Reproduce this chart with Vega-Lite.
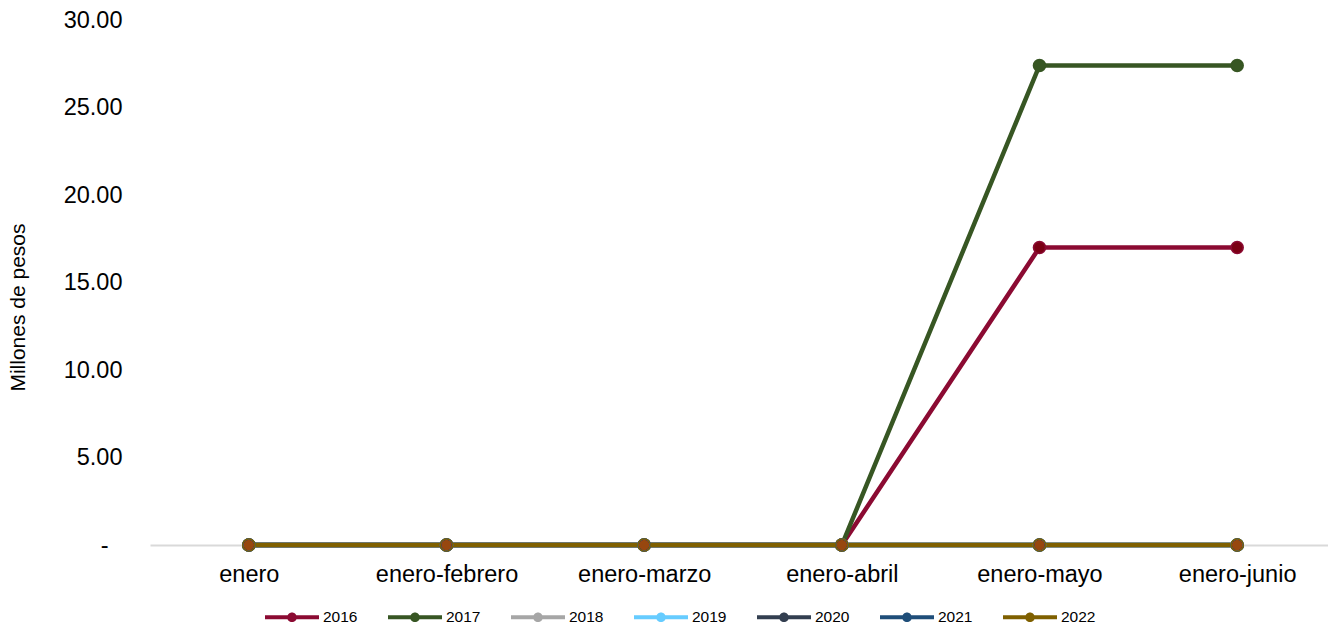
{
  "$schema": "https://vega.github.io/schema/vega-lite/v6.json",
  "width": 1186,
  "height": 525,
  "padding": {"left": 150, "top": 20, "right": 0, "bottom": 80},
  "autosize": {"type": "none"},
  "background": "white",
  "config": {
    "view": {"stroke": null},
    "font": "Liberation Sans",
    "axis": {"labelFont": "Liberation Sans", "titleFont": "Liberation Sans", "labelColor": "#000000", "titleColor": "#000000", "titleFontWeight": "normal"},
    "legend": {"labelFont": "Liberation Sans", "labelColor": "#000000"}
  },
  "data": {
    "values": [
      {"mes": "enero", "anio": "2016", "valor": 0},
      {"mes": "enero-febrero", "anio": "2016", "valor": 0},
      {"mes": "enero-marzo", "anio": "2016", "valor": 0},
      {"mes": "enero-abril", "anio": "2016", "valor": 0},
      {"mes": "enero-mayo", "anio": "2016", "valor": 17.0},
      {"mes": "enero-junio", "anio": "2016", "valor": 17.0},
      {"mes": "enero", "anio": "2017", "valor": 0},
      {"mes": "enero-febrero", "anio": "2017", "valor": 0},
      {"mes": "enero-marzo", "anio": "2017", "valor": 0},
      {"mes": "enero-abril", "anio": "2017", "valor": 0},
      {"mes": "enero-mayo", "anio": "2017", "valor": 27.4},
      {"mes": "enero-junio", "anio": "2017", "valor": 27.4},
      {"mes": "enero", "anio": "2018", "valor": 0},
      {"mes": "enero-febrero", "anio": "2018", "valor": 0},
      {"mes": "enero-marzo", "anio": "2018", "valor": 0},
      {"mes": "enero-abril", "anio": "2018", "valor": 0},
      {"mes": "enero-mayo", "anio": "2018", "valor": 0},
      {"mes": "enero-junio", "anio": "2018", "valor": 0},
      {"mes": "enero", "anio": "2019", "valor": 0},
      {"mes": "enero-febrero", "anio": "2019", "valor": 0},
      {"mes": "enero-marzo", "anio": "2019", "valor": 0},
      {"mes": "enero-abril", "anio": "2019", "valor": 0},
      {"mes": "enero-mayo", "anio": "2019", "valor": 0},
      {"mes": "enero-junio", "anio": "2019", "valor": 0},
      {"mes": "enero", "anio": "2020", "valor": 0},
      {"mes": "enero-febrero", "anio": "2020", "valor": 0},
      {"mes": "enero-marzo", "anio": "2020", "valor": 0},
      {"mes": "enero-abril", "anio": "2020", "valor": 0},
      {"mes": "enero-mayo", "anio": "2020", "valor": 0},
      {"mes": "enero-junio", "anio": "2020", "valor": 0},
      {"mes": "enero", "anio": "2021", "valor": 0},
      {"mes": "enero-febrero", "anio": "2021", "valor": 0},
      {"mes": "enero-marzo", "anio": "2021", "valor": 0},
      {"mes": "enero-abril", "anio": "2021", "valor": 0},
      {"mes": "enero-mayo", "anio": "2021", "valor": 0},
      {"mes": "enero-junio", "anio": "2021", "valor": 0},
      {"mes": "enero", "anio": "2022", "valor": 0},
      {"mes": "enero-febrero", "anio": "2022", "valor": 0},
      {"mes": "enero-marzo", "anio": "2022", "valor": 0},
      {"mes": "enero-abril", "anio": "2022", "valor": 0},
      {"mes": "enero-mayo", "anio": "2022", "valor": 0},
      {"mes": "enero-junio", "anio": "2022", "valor": 0}
    ]
  },
  "encoding": {
    "x": {
      "field": "mes",
      "type": "nominal",
      "sort": ["enero", "enero-febrero", "enero-marzo", "enero-abril", "enero-mayo", "enero-junio"],
      "scale": {"type": "point", "padding": 0.5},
      "axis": {"title": null, "labelAngle": 0, "labelFontSize": 23.5, "labelPadding": 17, "ticks": false, "domain": true, "domainColor": "#D9D9D9", "domainWidth": 2, "grid": false}
    },
    "y": {
      "field": "valor",
      "type": "quantitative",
      "scale": {"domain": [0, 30], "nice": false, "zero": true},
      "axis": {"title": "Millones de pesos", "titleFontSize": 21, "titlePadding": 35, "titleY": 287, "labelFontSize": 23.5, "labelPadding": {"condition": {"test": "datum.value == 0", "value": 42}, "value": 28}, "values": [0, 5, 10, 15, 20, 25, 30], "labelExpr": "datum.value == 0 ? '-' : format(datum.value, '.2f')", "labelOverlap": false, "labelFlush": false, "ticks": false, "domain": false, "grid": false}
    }
  },
  "layer": [
    {
      "mark": {"type": "line", "strokeWidth": 4.5},
      "encoding": {
        "color": {
          "field": "anio",
          "type": "nominal",
          "scale": {"domain": ["2016", "2017", "2018", "2019", "2020", "2021", "2022"], "range": ["#8B0A32", "#375623", "#A6A6A6", "#66CCFF", "#333F50", "#1F4E79", "#7F6000"]},
          "legend": {
            "title": null,
            "orient": "none",
            "direction": "horizontal",
            "columns": 7,
            "legendX": 115,
            "legendY": 570,
            "labelFontSize": 15.5,
            "labelOffset": 4,
            "columnPadding": 30,
            "symbolSize": 2916,
            "symbolType": "M-1,-0.078H1V0.078H-1Z M0.18,0A0.18,0.18 0 1 1 -0.18,0A0.18,0.18 0 1 1 0.18,0Z",
            "symbolStrokeWidth": 0,
            "encode": {"symbols": {"update": {"strokeWidth": {"value": 0}, "opacity": {"value": 1}}}}
          }
        }
      }
    },
    {
      "mark": {"type": "point", "filled": true, "size": 185, "strokeWidth": 0, "opacity": 1},
      "encoding": {
        "fill": {
          "field": "anio",
          "type": "nominal",
          "scale": {"domain": ["2016", "2017", "2018", "2019", "2020", "2021", "2022"], "range": ["#8B0A32", "#375623", "#A6A6A6", "#66CCFF", "#333F50", "#1F4E79", "#7F6000"]},
          "legend": null
        }
      }
    },
    {
      "mark": {"type": "point", "filled": false, "size": 27, "strokeWidth": 5.2, "opacity": 1},
      "encoding": {
        "stroke": {
          "field": "anio",
          "type": "nominal",
          "scale": {"domain": ["2016", "2017", "2018", "2019", "2020", "2021", "2022"], "range": ["#7A0014", "#375623", "#A6A6A6", "#66CCFF", "#333F50", "#002060", "#97470F"]},
          "legend": null
        }
      }
    }
  ]
}
